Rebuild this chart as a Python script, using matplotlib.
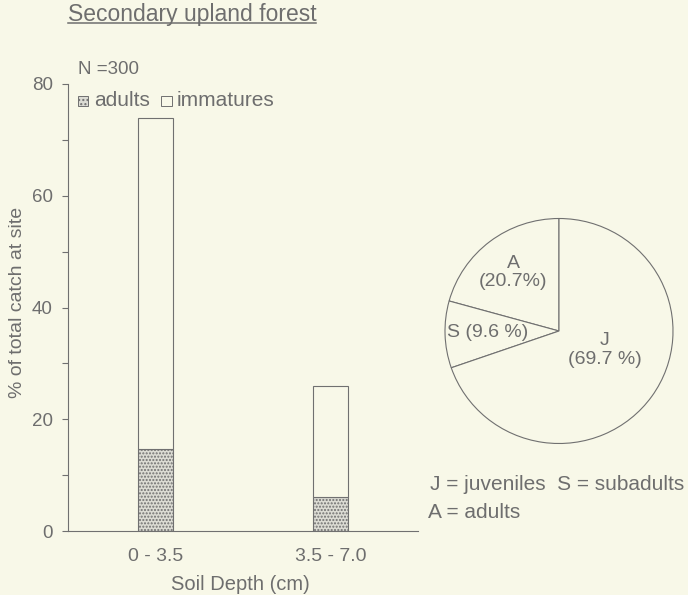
import matplotlib
matplotlib.use("Agg")
import matplotlib.pyplot as plt
from matplotlib.patches import Rectangle

plt.rcParams['font.family'] = ['Liberation Sans', 'DejaVu Sans']
plt.rcParams['hatch.color'] = '#a8a8a0'

categories = ["0 - 3.5", "3.5 - 7.0"]
total = [74.0, 26.0]
adults = [14.7, 6.0]
immatures = [t - a for t, a in zip(total, adults)]
yticks = [0, 20, 40, 60, 80]
yminor = [10, 30, 50, 70]

pie_labels = ["A\n(20.7%)", "S (9.6 %)", "J\n(69.7 %)"]
pie_values = [20.7, 9.6, 69.7]

BG = '#f8f8e8'
TXT = '#6e6e6e'
LINE = '#707070'

W, H = 688, 595
fig = plt.figure(figsize=(6.88, 5.95), dpi=100, facecolor=BG)

ax = fig.add_axes([68/W, 1-531/H, 350/W, 447/H])
ax.set_facecolor(BG)
x = list(range(len(categories)))
ax.bar(x, adults, width=0.2, color='#dcdcd4', edgecolor=LINE, linewidth=0.8, hatch='.....')
ax.bar(x, immatures, bottom=adults, width=0.2, color=BG, edgecolor=LINE, linewidth=0.8)
ax.set_xlim(-0.5, 1.5)
ax.set_ylim(0, 80)
ax.set_yticks(yticks)
ax.set_yticks(yminor, minor=True)
ax.set_xticks(x)
ax.set_xticklabels(categories, fontsize=14, color=TXT)
ax.tick_params(axis='x', length=0, pad=12)
ax.tick_params(axis='y', which='both', length=4.5, width=0.8, color=LINE,
               labelsize=13.5, labelcolor=TXT, pad=6.5)
for s in ['top', 'right']:
    ax.spines[s].set_visible(False)
for s in ['left', 'bottom']:
    ax.spines[s].set_color(LINE)
    ax.spines[s].set_linewidth(0.8)
ax.set_xlabel("Soil Depth (cm)", fontsize=14.5, color=TXT)
ax.xaxis.set_label_coords((240-68)/350, (531-584)/447)
ax.xaxis.label.set_va('center')
ax.set_ylabel("% of total catch at site", fontsize=14, color=TXT)
ax.yaxis.set_label_coords((18-68)/350, (531-302)/447)
ax.yaxis.label.set_va('center')

fig.text(68/W, 1-14/H, "Secondary upland forest", fontsize=16.5, color=TXT,
         ha='left', va='center')
fig.add_artist(plt.Line2D([68/W, 316/W], [1-23/H, 1-23/H], color=TXT, linewidth=1.1))
fig.text(78/W, 1-70/H, "N =300", fontsize=13.5, color=TXT, ha='left', va='center')
fig.patches.append(Rectangle((78/W, 1-106/H), 10/W, 10/H, transform=fig.transFigure,
                             facecolor='#dcdcd4', edgecolor=LINE, linewidth=0.7, hatch='....'))
fig.text(94/W, 1-100/H, "adults", fontsize=15, color=TXT, ha='left', va='center')
fig.patches.append(Rectangle((161/W, 1-106/H), 11/W, 10/H, transform=fig.transFigure,
                             facecolor=BG, edgecolor=LINE, linewidth=0.7))
fig.text(177/W, 1-100/H, "immatures", fontsize=15, color=TXT, ha='left', va='center')

pax = fig.add_axes([445/W, 1-443.5/H, 228/W, 225/H])
pax.set_facecolor(BG)
wedges, _ = pax.pie(pie_values, startangle=90, counterclock=True,
                    colors=[BG]*3, wedgeprops=dict(edgecolor=LINE, linewidth=0.8))
pax.set_aspect('auto')
pax.set_xlim(-1.0, 1.0)
pax.set_ylim(-1.0, 1.0)
pax.axis('off')
pax.text(-0.40, 0.52, pie_labels[0], fontsize=14, color=TXT, ha='center', va='center', linespacing=1.15)
pax.text(-0.63, -0.01, pie_labels[1], fontsize=14, color=TXT, ha='center', va='center')
pax.text(0.40, -0.17, pie_labels[2], fontsize=14, color=TXT, ha='center', va='center', linespacing=1.15)

fig.text(430/W, 1-485/H, "J = juveniles  S = subadults", fontsize=15, color=TXT, ha='left', va='center')
fig.text(428/W, 1-513/H, "A = adults", fontsize=15, color=TXT, ha='left', va='center')

fig.savefig("out.png", dpi=100, facecolor=BG)
